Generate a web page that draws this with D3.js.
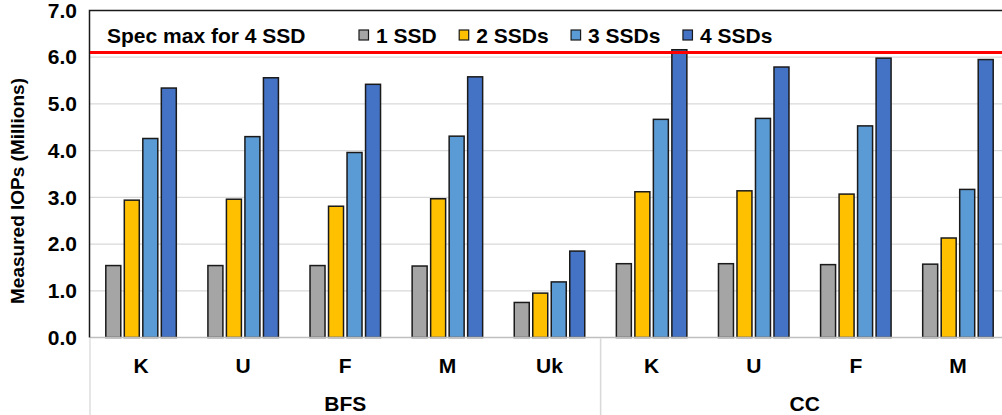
<!DOCTYPE html>
<html>
<head>
<meta charset="utf-8">
<script src="https://cdn.jsdelivr.net/npm/d3@7"></script>
<style>
  html, body { margin: 0; padding: 0; background: #fff; }
  svg { display: block; font-family: "Liberation Sans", Arial, sans-serif; font-weight: bold; }
</style>
</head>
<body>
<svg id="chart" width="1002" height="415"></svg>
<script>
// Workloads (graph datasets) grouped by algorithm
const groups = ["BFS", "CC"];
const categories = ["K", "U", "F", "M", "Uk", "K", "U", "F", "M"];
const categoryGroup = ["BFS", "BFS", "BFS", "BFS", "BFS", "CC", "CC", "CC", "CC"];
const seriesNames = ["1 SSD", "2 SSDs", "3 SSDs", "4 SSDs"];

// Measured IOPs in millions, one array per SSD count
const oneSSD   = [1.54, 1.54, 1.54, 1.53, 0.75, 1.58, 1.58, 1.56, 1.57];
const twoSSDs  = [2.94, 2.96, 2.81, 2.97, 0.95, 3.12, 3.14, 3.07, 2.13];
const threeSSDs = [4.26, 4.30, 3.96, 4.31, 1.19, 4.67, 4.69, 4.53, 3.17];
const fourSSDs = [5.34, 5.56, 5.42, 5.58, 1.85, 6.16, 5.79, 5.98, 5.95];

const specMax = 6.1;
const specLabel = "Spec max for 4 SSD";
const yTicks = [0, 1, 2, 3, 4, 5, 6, 7];

const seriesValues = [oneSSD, twoSSDs, threeSSDs, fourSSDs];
const colors = ["#a5a5a5", "#ffc000", "#5b9bd5", "#4472c4"];

const svg = d3.select("#chart");
const plotLeft = 90, plotRight = 1009, plotTop = 10.5, plotBottom = 337.5, axisBottom = 415;
const fontSize = 21;

const x = d3.scaleBand().domain(d3.range(categories.length)).range([plotLeft, plotRight]).paddingInner(0).paddingOuter(0);
const xs = d3.scaleBand().domain(d3.range(seriesNames.length)).range([0, x.bandwidth()]).paddingInner(0.19).paddingOuter(0.854);
const y = d3.scaleLinear().domain([0, 7]).range([plotBottom, plotTop]);

// Horizontal gridlines
svg.append("g").selectAll("line").data(yTicks.filter(d => d > 0 && d < 7)).join("line")
  .attr("x1", plotLeft).attr("x2", plotRight)
  .attr("y1", d => y(d)).attr("y2", d => y(d))
  .attr("stroke", "#d9d9d9").attr("stroke-width", 1.3);

// Bars
const rows = [];
seriesValues.forEach((vals, s) => vals.forEach((v, i) => rows.push({ s, i, v })));
svg.append("g").selectAll("rect").data(rows).join("rect")
  .attr("x", d => x(d.i) + xs(d.s))
  .attr("y", d => y(d.v))
  .attr("width", xs.bandwidth())
  .attr("height", d => y(0) - y(d.v))
  .attr("fill", d => colors[d.s])
  .attr("stroke", "#1a1a1a").attr("stroke-width", 1.5);

// Category axis line
svg.append("line").attr("x1", plotLeft).attr("x2", plotRight).attr("y1", plotBottom).attr("y2", plotBottom)
  .attr("stroke", "#bfbfbf").attr("stroke-width", 1.5);

// Plot frame (top and left)
svg.append("path")
  .attr("d", `M${plotLeft - 0.5},${plotBottom} V${plotTop} H${plotRight}`)
  .attr("fill", "none").attr("stroke", "#1a1a1a").attr("stroke-width", 1.5);

// Spec max reference line
svg.append("line").attr("x1", plotLeft).attr("x2", plotRight)
  .attr("y1", y(specMax)).attr("y2", y(specMax))
  .attr("stroke", "#ff0000").attr("stroke-width", 3);

// Y axis tick labels
const yAxis = d3.axisLeft(y).tickValues(yTicks).tickFormat(d3.format(".1f")).tickSize(0).tickPadding(13);
const ya = svg.append("g").attr("transform", `translate(${plotLeft},0)`).call(yAxis);
ya.select(".domain").remove();
ya.selectAll("text").attr("font-size", fontSize).attr("font-weight", "bold").attr("fill", "#000")
  .attr("font-family", "Liberation Sans, Arial, sans-serif");

// Y axis title
svg.append("text")
  .attr("transform", `translate(24,${(plotTop + plotBottom) / 2 + 17}) rotate(-90)`)
  .attr("text-anchor", "middle").attr("font-size", 19).attr("fill", "#000")
  .text("Measured IOPs (Millions)");

// Category labels
svg.append("g").selectAll("text").data(categories).join("text")
  .attr("x", (d, i) => x(i) + x.bandwidth() / 2)
  .attr("y", 373)
  .attr("text-anchor", "middle").attr("font-size", fontSize).attr("fill", "#000")
  .text(d => d);

// Group labels and separators
groups.forEach(g => {
  const idx = d3.range(categories.length).filter(i => categoryGroup[i] === g);
  const x0 = x(idx[0]), x1 = x(idx[idx.length - 1]) + x.bandwidth();
  svg.append("text").attr("x", (x0 + x1) / 2).attr("y", 411)
    .attr("text-anchor", "middle").attr("font-size", fontSize).attr("fill", "#000").text(g);
  [x0, x1].forEach(xx => svg.append("line")
    .attr("x1", xx).attr("x2", xx).attr("y1", plotBottom + 1).attr("y2", axisBottom)
    .attr("stroke", "#d9d9d9").attr("stroke-width", 1.3));
});

// Legend: reference line label followed by series swatches
svg.append("text").attr("x", 107).attr("y", 43).attr("font-size", fontSize).attr("fill", "#000").text(specLabel);
let lx = 359;
seriesNames.forEach((name, s) => {
  svg.append("rect").attr("x", lx).attr("y", 30).attr("width", 9.5).attr("height", 10)
    .attr("fill", colors[s]).attr("stroke", "#1a1a1a").attr("stroke-width", 1.2);
  const t = svg.append("text").attr("x", lx + 17).attr("y", 43).attr("font-size", fontSize).attr("fill", "#000").text(name);
  lx += 17 + t.node().getComputedTextLength() + 22.5;
});
</script>
</body>
</html>
